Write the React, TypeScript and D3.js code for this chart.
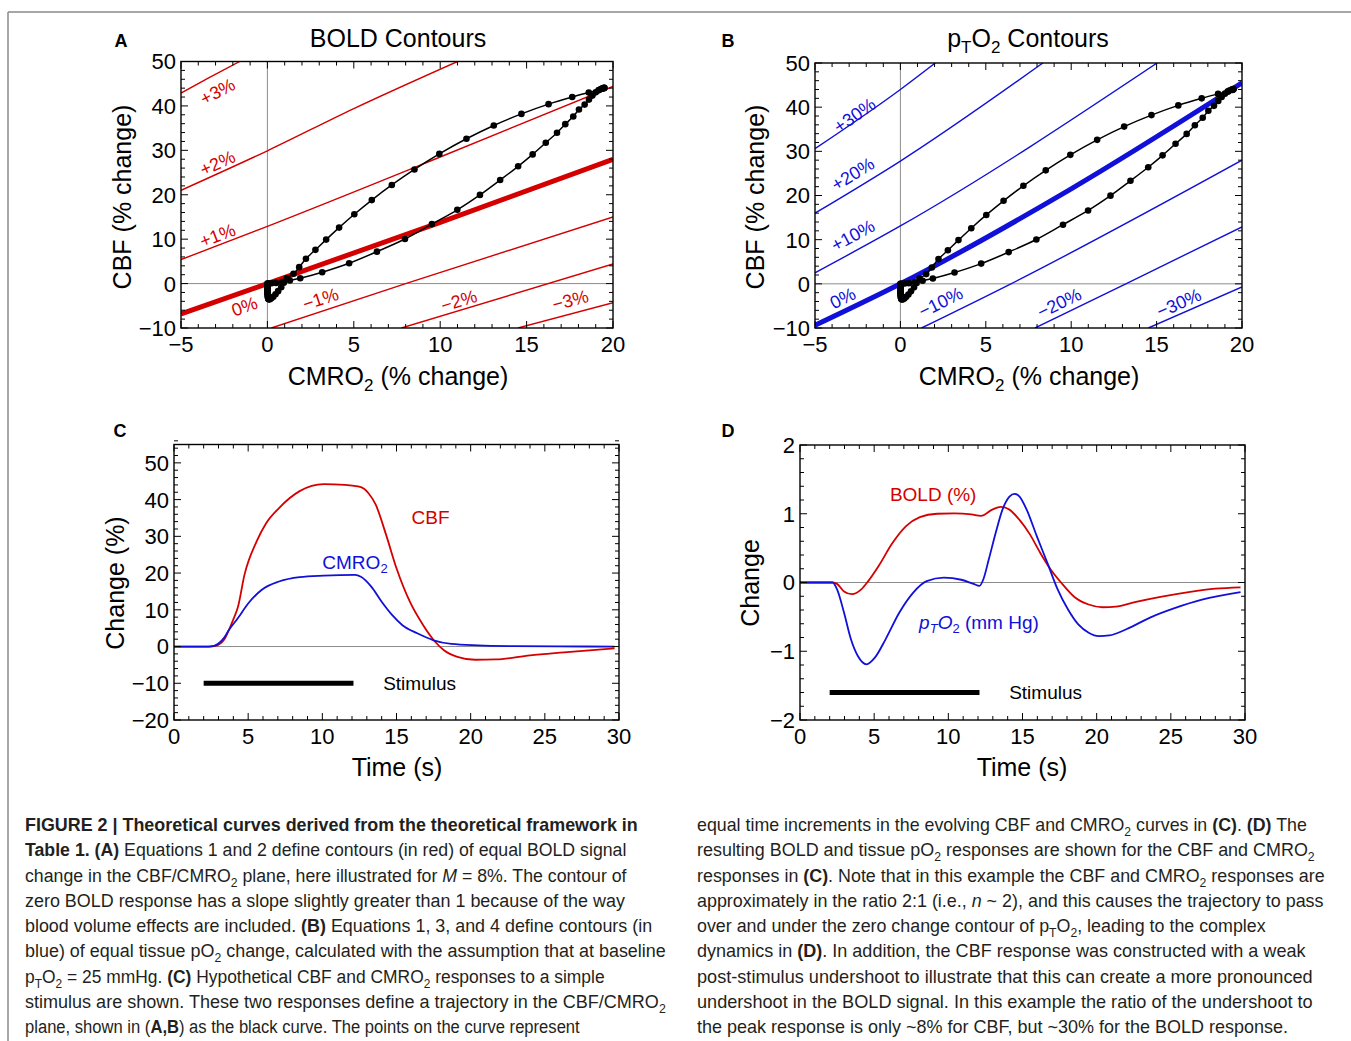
import React, { useLayoutEffect, useRef } from "react";
import * as d3 from "d3";

const RED = "#d40000";
const BLUE = "#1010d8";
const FONT = "'Liberation Sans', Arial, Helvetica, sans-serif";

type Pt = [number, number];

// trajectory in the CBF/CMRO2 plane, one dot per equal time step: [CMRO2 %, CBF %]
const trajectory: Pt[] = [
  [0, 0], [0.03, 0.0], [0.1, 0.02], [0.25, 0.06], [0.5, 0.15], [0.85, 0.35], [1.3, 0.7], [1.9, 1.21],
  [3.17, 2.56], [4.73, 4.58], [6.34, 7.19], [7.96, 10.03], [9.52, 13.39], [10.99, 16.61], [12.3, 19.97],
  [13.47, 23.33], [14.51, 26.4], [15.35, 29.09], [16.11, 31.71], [16.76, 33.95], [17.24, 35.89],
  [17.7, 37.61], [18.03, 39.18], [18.36, 40.3], [18.61, 41.42], [18.81, 42.32], [19.0, 43.06],
  [19.16, 43.51], [19.29, 43.81], [19.39, 43.96], [19.45, 44.05], [19.48, 44.1], [19.5, 44.1],
  [19.5, 44.05], [19.45, 43.9],
  [19.2, 43.6], [18.6, 43.0], [17.64, 42.0], [16.27, 40.4], [14.7, 38.2], [13.1, 35.6], [11.52, 32.6],
  [9.95, 29.2], [8.51, 25.7], [7.2, 22.2], [6.04, 18.8], [5.03, 15.6], [4.15, 12.6], [3.4, 9.9],
  [2.78, 7.6], [2.23, 5.6], [1.84, 3.7], [1.51, 2.2], [1.12, 1.2],
  [0.95, 0.2], [0.8, -0.8], [0.62, -1.7], [0.47, -2.4], [0.34, -2.95], [0.23, -3.3], [0.15, -3.5],
  [0.1, -3.55], [0.07, -3.5], [0.05, -3.4], [0.04, -3.25], [0.03, -3.05], [0.025, -2.85], [0.02, -2.65],
  [0.015, -2.45], [0.012, -2.25], [0.01, -2.05], [0.008, -1.85], [0.006, -1.65], [0.005, -1.45],
  [0.004, -1.25], [0.003, -1.05], [0.002, -0.85], [0.001, -0.65], [0, -0.5],
];

// BOLD contours (panel A)
const boldLevels = ["+3%", "+2%", "+1%", "0%", "−1%", "−2%", "−3%"];
const boldContours: Pt[][] = [
  [[-5, 42.9], [-3.4, 46.3], [-1.6, 50]],
  [[-5, 21.0], [0, 29.9], [5, 39.4], [11.0, 50]],
  [[-5, 5.4], [0, 12.9], [10, 28.5], [20, 44.4]],
  [[-5, -6.85], [0, 0], [10, 13.8], [20, 28]],
  [[0.23, -10], [8.0, 0], [20, 15.0]],
  [[7.76, -10], [20, 4.4]],
  [[14.5, -10], [20, -4.3]],
];
const boldLabelAt: Pt[] = [
  [-2.89, 43.3], [-2.89, 27.2], [-2.89, 10.9], [-1.33, -5.1], [3.07, -3.4], [11.08, -3.8], [17.53, -3.7],
];

// tissue pO2 contours (panel B)
const pto2Levels = ["+30%", "+20%", "+10%", "0%", "−10%", "−20%", "−30%"];
const pto2Contours: Pt[][] = [
  [[-5, 30.6], [0, 44.0], [2.04, 50]],
  [[-5, 16.0], [0, 27.8], [8.34, 50]],
  [[-5, 2.5], [0, 13.1], [15.03, 50]],
  [[-5, -9.4], [0, 0], [10, 21.5], [20, 45.5]],
  [[1.24, -10], [6.47, 0], [20, 28.0]],
  [[7.88, -10], [13.2, 0], [20, 12.9]],
  [[14.52, -10], [20, -0.7]],
];
const pto2LabelAt: Pt[] = [
  [-2.69, 38.2], [-2.79, 24.9], [-2.79, 11.0], [-3.39, -3.2], [2.35, -4.1], [9.29, -4.3], [16.3, -4.3],
];

// panel C: [time s, % change]
const cbfSeries: Pt[] = [
  [0, 0], [2.4, 0], [2.7, 0.1], [3.0, 0.5], [3.4, 2.0], [3.7, 4.5], [4.0, 7.4], [4.3, 10.6], [4.75, 19.5],
  [5.57, 28.6], [6.2, 33.5], [7.08, 37.7], [8.47, 42.3], [10.1, 44.2], [11.5, 44.0], [12.6, 43.4],
  [13.1, 41.8], [13.6, 38.6], [14.3, 30.4], [15.0, 21.3], [15.9, 12.2], [16.8, 5.8], [17.6, 1.3],
  [18.2, -1.0], [19.1, -2.8], [20.3, -3.6], [21.7, -3.5], [24.0, -2.4], [26.3, -1.6], [29.7, -0.5],
];
const cmro2Series: Pt[] = [
  [0, 0], [2.3, 0], [2.7, 0.2], [3.0, 0.8], [3.4, 2.5], [3.7, 4.5], [4.3, 7.7], [5.0, 11.7], [5.9, 15.4],
  [7.08, 17.7], [8.47, 18.9], [10.1, 19.3], [12.2, 19.5], [12.6, 19.0], [13.3, 16.3], [14.0, 12.2],
  [14.7, 8.6], [15.4, 5.8], [16.4, 3.6], [17.5, 1.7], [18.7, 0.7], [20.5, 0.3], [22.9, 0.1], [26, 0.02],
  [29.7, 0],
];

// panel D: [time s, change]
const boldSeries: Pt[] = [
  [0, 0], [2.2, 0], [2.5, -0.02], [2.97, -0.13], [3.5, -0.17], [4.13, -0.1], [4.6, 0.02], [5.3, 0.24],
  [6.22, 0.57], [7.15, 0.82], [8.08, 0.95], [9.24, 1.0], [10.4, 1.005], [11.56, 0.99], [12.2, 0.97],
  [12.96, 1.06], [13.54, 1.1], [14.12, 1.06], [14.8, 0.91], [15.5, 0.7], [16.2, 0.43], [16.9, 0.19],
  [17.6, 0], [18.5, -0.21], [19.46, -0.32], [20.4, -0.36], [21.3, -0.35], [22.5, -0.29], [24.3, -0.21],
  [26.2, -0.14], [28.0, -0.09], [29.7, -0.07],
];
const pto2Series: Pt[] = [
  [0, 0], [2.2, 0], [2.5, -0.1], [2.97, -0.44], [3.44, -0.83], [3.9, -1.07], [4.48, -1.19], [5.06, -1.09],
  [5.76, -0.83], [6.69, -0.44], [7.62, -0.15], [8.54, 0.02], [9.7, 0.07], [10.87, 0.04], [11.7, -0.02],
  [12.1, -0.05], [12.35, 0.04], [12.72, 0.33], [13.19, 0.72], [13.65, 1.06], [14.12, 1.25], [14.47, 1.29],
  [14.8, 1.25], [15.28, 1.06], [15.97, 0.67], [16.67, 0.29], [17.37, -0.1], [18.06, -0.39], [18.76, -0.61],
  [19.46, -0.73], [20.15, -0.78], [20.85, -0.77], [22.0, -0.68], [23.6, -0.51], [25.3, -0.37],
  [27.1, -0.25], [29.7, -0.14],
];

const stimulus = [2, 12.1];

// ticks
const planeXTicks = [-5, 0, 5, 10, 15, 20];
const planeYTicks = [-10, 0, 10, 20, 30, 40, 50];
const timeTicks = [0, 5, 10, 15, 20, 25, 30];
const cYTicks = [-20, -10, 0, 10, 20, 30, 40, 50];
const dYTicks = [-2, -1, 0, 1, 2];

const aX = d3.scaleLinear().domain([-5, 20]).range([181, 613]);
const aY = d3.scaleLinear().domain([-10, 50]).range([328, 61.5]);
const bX = d3.scaleLinear().domain([-5, 20]).range([815, 1242]);
const bY = d3.scaleLinear().domain([-10, 50]).range([328, 63]);
const cX = d3.scaleLinear().domain([0, 30]).range([174, 619]);
const cY = d3.scaleLinear().domain([-20, 55]).range([720, 444.5]);
const dX = d3.scaleLinear().domain([0, 30]).range([800, 1245]);
const dY = d3.scaleLinear().domain([-2, 2]).range([720, 445]);

type Scale = d3.ScaleLinear<number, number>;

const fmt = (v: number) => (v < 0 ? "−" + Math.abs(v) : String(v));

function Frame({ xs, ys, xTicks, yTicks, xMinor, yMinor }: {
  xs: Scale; ys: Scale; xTicks: number[]; yTicks: number[]; xMinor: number; yMinor: number;
}) {
  const [x0, x1] = xs.range();
  const [y0, y1] = ys.range();
  const minors = (s: Scale, step: number, major: number[]) => {
    const [a, b] = s.domain();
    return d3.range(Math.round(a / step), Math.round(b / step) + 1)
      .map((k) => Math.round(k * step * 1000) / 1000)
      .filter((v) => !major.some((m) => Math.abs(m - v) < 1e-6));
  };
  const mx = minors(xs, xMinor, xTicks);
  const my = minors(ys, yMinor, yTicks);
  const tick = (v: number, len: number, axis: "x" | "y", key: string) =>
    axis === "x" ? (
      <g key={key}>
        <line x1={xs(v)} x2={xs(v)} y1={y0} y2={y0 - len} />
        <line x1={xs(v)} x2={xs(v)} y1={y1} y2={y1 + len} />
      </g>
    ) : (
      <g key={key}>
        <line x1={x0} x2={x0 + len} y1={ys(v)} y2={ys(v)} />
        <line x1={x1} x2={x1 - len} y1={ys(v)} y2={ys(v)} />
      </g>
    );
  return (
    <g>
      <g stroke="#000" strokeWidth={1}>
        {xTicks.map((v) => tick(v, 7, "x", "X" + v))}
        {mx.map((v) => tick(v, 4, "x", "x" + v))}
        {yTicks.map((v) => tick(v, 7, "y", "Y" + v))}
        {my.map((v) => tick(v, 4, "y", "y" + v))}
      </g>
      <rect x={x0} y={y1} width={x1 - x0} height={y0 - y1} fill="none" stroke="#000" strokeWidth={1.4} />
      <g fontSize={22} fill="#000">
        {xTicks.map((v) => (
          <text key={v} x={xs(v)} y={y0 + 23.5} textAnchor="middle">{fmt(v)}</text>
        ))}
        {yTicks.map((v) => (
          <text key={v} x={x0 - 5} y={ys(v)} dy="0.36em" textAnchor="end">{fmt(v)}</text>
        ))}
      </g>
    </g>
  );
}

function contourAngle(pts: Pt[], x: number, xs: Scale, ys: Scale) {
  let i = pts.findIndex((p, k) => k < pts.length - 1 && x >= p[0] && x <= pts[k + 1][0]);
  if (i < 0) i = x < pts[0][0] ? 0 : pts.length - 2;
  const a = pts[i], b = pts[i + 1];
  return (Math.atan2(ys(b[1]) - ys(a[1]), xs(b[0]) - xs(a[0])) * 180) / Math.PI;
}

function PlanePanel({ xs, ys, contours, levels, labelAt, color, id }: {
  xs: Scale; ys: Scale; contours: Pt[][]; levels: string[]; labelAt: Pt[]; color: string; id: string;
}) {
  const [x0, x1] = xs.range();
  const [y0, y1] = ys.range();
  const contourLine = d3.line<Pt>().x((d) => xs(d[0])).y((d) => ys(d[1])).curve(d3.curveMonotoneX);
  const trajLine = d3.line<Pt>().x((d) => xs(d[0])).y((d) => ys(d[1])).curve(d3.curveCatmullRom);
  return (
    <g>
      <defs>
        <clipPath id={id}>
          <rect x={x0} y={y1} width={x1 - x0} height={y0 - y1} />
        </clipPath>
      </defs>
      <g clipPath={`url(#${id})`}>
        <line x1={xs(0)} x2={xs(0)} y1={y0} y2={y1} stroke="#8c8c8c" strokeWidth={1} />
        <line x1={x0} x2={x1} y1={ys(0)} y2={ys(0)} stroke="#8c8c8c" strokeWidth={1} />
        {contours.map((c, i) => (
          <path key={i} d={contourLine(c) ?? ""} fill="none" stroke={color}
            strokeWidth={levels[i] === "0%" ? 5 : 1.4} />
        ))}
        <path d={trajLine(trajectory) ?? ""} fill="none" stroke="#000" strokeWidth={1.5} />
        {trajectory.map((p, i) => (
          <circle key={i} cx={xs(p[0])} cy={ys(p[1])} r={3.3} fill="#000" />
        ))}
      </g>
      <g fontSize={18} fill={color}>
        {levels.map((lv, i) => {
          const [lx, ly] = labelAt[i];
          const ang = contourAngle(contours[i], lx, xs, ys);
          return (
            <text key={lv} transform={`translate(${xs(lx)},${ys(ly)}) rotate(${ang})`}
              textAnchor="middle" dy="0.36em">{lv}</text>
          );
        })}
      </g>
      <Frame xs={xs} ys={ys} xTicks={planeXTicks} yTicks={planeYTicks} xMinor={1} yMinor={2} />
    </g>
  );
}

function TimePanel({ xs, ys, series, colors, yTicks, yMinor, barY, id }: {
  xs: Scale; ys: Scale; series: Pt[][]; colors: string[]; yTicks: number[]; yMinor: number; barY: number; id: string;
}) {
  const [x0, x1] = xs.range();
  const [y0, y1] = ys.range();
  const line = d3.line<Pt>().x((d) => xs(d[0])).y((d) => ys(d[1])).curve(d3.curveMonotoneX);
  return (
    <g>
      <defs>
        <clipPath id={id}>
          <rect x={x0} y={y1} width={x1 - x0} height={y0 - y1} />
        </clipPath>
      </defs>
      <g clipPath={`url(#${id})`}>
        <line x1={x0} x2={x1} y1={ys(0)} y2={ys(0)} stroke="#8c8c8c" strokeWidth={1} />
        {series.map((s, i) => (
          <path key={i} d={line(s) ?? ""} fill="none" stroke={colors[i]} strokeWidth={1.8} />
        ))}
        <line x1={xs(stimulus[0])} x2={xs(stimulus[1])} y1={ys(barY)} y2={ys(barY)} stroke="#000" strokeWidth={5} />
      </g>
      <text x={xs(14.1)} y={ys(barY)} dy="0.36em" fontSize={19} fill="#000">Stimulus</text>
      <Frame xs={xs} ys={ys} xTicks={timeTicks} yTicks={yTicks} xMinor={1} yMinor={yMinor} />
    </g>
  );
}

type Seg = [string, string];

const captionLeft: Seg[][] = [
  [["FIGURE 2 | Theoretical curves derived from the theoretical framework in", "b"]],
  [["Table 1. (A)", "b"], [" Equations 1 and 2 define contours (in red) of equal BOLD signal", ""]],
  [["change in the CBF/CMRO", ""], ["2", "sub"], [" plane, here illustrated for ", ""], ["M", "i"], [" = 8%. The contour of", ""]],
  [["zero BOLD response has a slope slightly greater than 1 because of the way", ""]],
  [["blood volume effects are included. ", ""], ["(B)", "b"], [" Equations 1, 3, and 4 define contours (in", ""]],
  [["blue) of equal tissue pO", ""], ["2", "sub"], [" change, calculated with the assumption that at baseline", ""]],
  [["p", ""], ["T", "sub"], ["O", ""], ["2", "sub"], [" = 25 mmHg. ", ""], ["(C)", "b"], [" Hypothetical CBF and CMRO", ""], ["2", "sub"], [" responses to a simple", ""]],
  [["stimulus are shown. These two responses define a trajectory in the CBF/CMRO", ""], ["2", "sub"]],
  [["plane, shown in (", ""], ["A,B", "b"], [") as the black curve. The points on the curve represent", ""]],
];
const captionRight: Seg[][] = [
  [["equal time increments in the evolving CBF and CMRO", ""], ["2", "sub"], [" curves in ", ""], ["(C)", "b"], [". ", ""], ["(D)", "b"], [" The", ""]],
  [["resulting BOLD and tissue pO", ""], ["2", "sub"], [" responses are shown for the CBF and CMRO", ""], ["2", "sub"]],
  [["responses in ", ""], ["(C)", "b"], [". Note that in this example the CBF and CMRO", ""], ["2", "sub"], [" responses are", ""]],
  [["approximately in the ratio 2:1 (i.e., ", ""], ["n", "i"], [" ~ 2), and this causes the trajectory to pass", ""]],
  [["over and under the zero change contour of p", ""], ["T", "sub"], ["O", ""], ["2", "sub"], [", leading to the complex", ""]],
  [["dynamics in ", ""], ["(D)", "b"], [". In addition, the CBF response was constructed with a weak", ""]],
  [["post-stimulus undershoot to illustrate that this can create a more pronounced", ""]],
  [["undershoot in the BOLD signal. In this example the ratio of the undershoot to", ""]],
  [["the peak response is only ~8% for CBF, but ~30% for the BOLD response.", ""]],
];
const captionLeftEnd = [638, 627, 627, 625, 652, 666, 605, 666, 580];
const captionRightEnd = [1307, 1315, 1325, 1324, 1266, 1306, 1313, 1313, 1288];

function CaptionLine({ segs, x, y, xEnd }: { segs: Seg[]; x: number; y: number; xEnd: number }) {
  const ref = useRef<SVGTextElement>(null);
  useLayoutEffect(() => {
    const el = ref.current;
    if (!el) return;
    const len = el.getComputedTextLength();
    const k = len > 0 ? (xEnd - x) / len : 1;
    el.setAttribute("transform", `translate(${x},${y}) scale(${k},1)`);
  }, [x, y, xEnd]);
  let shift = 0;
  return (
    <text ref={ref} transform={`translate(${x},${y})`} fontSize={19} fill="#231f20" style={{ whiteSpace: "pre" }}>
      {segs.map(([t, s], i) => {
        const target = s === "sub" ? 5 : 0;
        const dy = target - shift;
        shift = target;
        return (
          <tspan key={i} dy={dy || undefined} fontWeight={s === "b" ? "bold" : undefined}
            fontStyle={s === "i" ? "italic" : undefined} fontSize={s === "sub" ? 13 : undefined}>
            {t}
          </tspan>
        );
      })}
    </text>
  );
}

export default function App() {
  return (
    <div style={{ position: "absolute", left: 0, top: 0 }}>
      <svg width={1351} height={1041} fontFamily={FONT} style={{ display: "block", background: "#fff" }}>
        <line x1={8} y1={12} x2={1351} y2={12} stroke="#8a8a8a" strokeWidth={1.5} />
        <line x1={8} y1={12} x2={8} y2={1041} stroke="#8a8a8a" strokeWidth={1.5} />

        {/* panel letters */}
        <g fontSize={18} fontWeight="bold" fill="#000">
          <text x={121} y={46.5} textAnchor="middle">A</text>
          <text x={728} y={46.5} textAnchor="middle">B</text>
          <text x={120} y={436.5} textAnchor="middle">C</text>
          <text x={728} y={436.5} textAnchor="middle">D</text>
        </g>

        {/* A */}
        <text x={398} y={47} fontSize={25} textAnchor="middle">BOLD Contours</text>
        <PlanePanel xs={aX} ys={aY} contours={boldContours} levels={boldLevels} labelAt={boldLabelAt} color={RED} id="clipA" />
        <text transform="translate(131,197) rotate(-90)" fontSize={25} textAnchor="middle">CBF (% change)</text>
        <text x={398} y={385} fontSize={25} textAnchor="middle">
          CMRO<tspan dy={6} fontSize={17}>2</tspan><tspan dy={-6}> (% change)</tspan>
        </text>

        {/* B */}
        <text x={1028} y={47} fontSize={25} textAnchor="middle">
          p<tspan dy={6} fontSize={17}>T</tspan><tspan dy={-6}>O</tspan><tspan dy={6} fontSize={17}>2</tspan><tspan dy={-6}> Contours</tspan>
        </text>
        <PlanePanel xs={bX} ys={bY} contours={pto2Contours} levels={pto2Levels} labelAt={pto2LabelAt} color={BLUE} id="clipB" />
        <text transform="translate(764,197) rotate(-90)" fontSize={25} textAnchor="middle">CBF (% change)</text>
        <text x={1029} y={385} fontSize={25} textAnchor="middle">
          CMRO<tspan dy={6} fontSize={17}>2</tspan><tspan dy={-6}> (% change)</tspan>
        </text>

        {/* C */}
        <TimePanel xs={cX} ys={cY} series={[cbfSeries, cmro2Series]} colors={[RED, BLUE]} yTicks={cYTicks} yMinor={2} barY={-10} id="clipC" />
        <text x={cX(17.3)} y={cY(35.2)} dy="0.36em" fontSize={19} fill={RED} textAnchor="middle">CBF</text>
        <text x={cX(12.2)} y={cY(23)} dy="0.36em" fontSize={19} fill={BLUE} textAnchor="middle">
          CMRO<tspan dy={4} fontSize={13}>2</tspan>
        </text>
        <text transform="translate(124,583) rotate(-90)" fontSize={25} textAnchor="middle">Change (%)</text>
        <text x={397} y={776} fontSize={25} textAnchor="middle">Time (s)</text>

        {/* D */}
        <TimePanel xs={dX} ys={dY} series={[boldSeries, pto2Series]} colors={[RED, BLUE]} yTicks={dYTicks} yMinor={0.2} barY={-1.6} id="clipD" />
        <text x={dX(6.06)} y={dY(1.28)} dy="0.36em" fontSize={19} fill={RED}>BOLD (%)</text>
        <text x={dX(8.03)} y={dY(-0.58)} dy="0.36em" fontSize={19} fill={BLUE}>
          <tspan fontStyle="italic">p</tspan><tspan dy={4} fontSize={13} fontStyle="italic">T</tspan>
          <tspan dy={-4} fontStyle="italic">O</tspan><tspan dy={4} fontSize={13}>2</tspan>
          <tspan dy={-4}> (mm Hg)</tspan>
        </text>
        <text transform="translate(759,583) rotate(-90)" fontSize={25} textAnchor="middle">Change</text>
        <text x={1022} y={776} fontSize={25} textAnchor="middle">Time (s)</text>

        {/* caption */}
        {captionLeft.map((segs, i) => (
          <CaptionLine key={"l" + i} segs={segs} x={25} y={831 + i * 25.25} xEnd={captionLeftEnd[i]} />
        ))}
        {captionRight.map((segs, i) => (
          <CaptionLine key={"r" + i} segs={segs} x={697} y={831 + i * 25.25} xEnd={captionRightEnd[i]} />
        ))}
      </svg>
    </div>
  );
}
